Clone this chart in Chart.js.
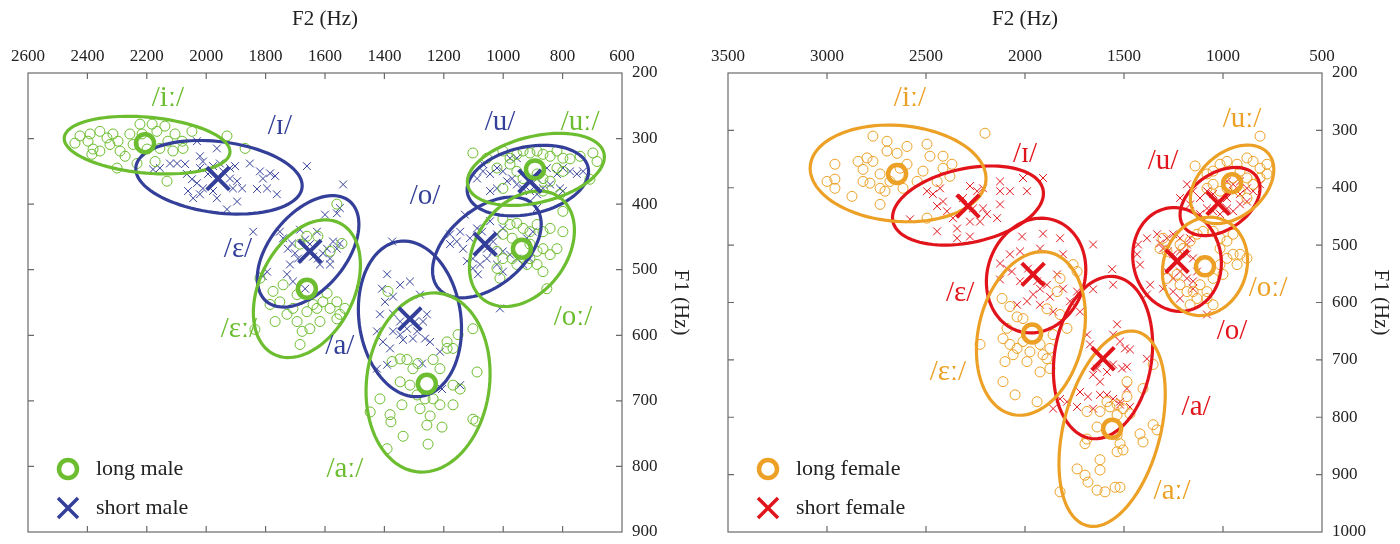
<!DOCTYPE html>
<html>
<head>
<meta charset="utf-8">
<script src="https://cdn.jsdelivr.net/npm/chart.js@4.4.1/dist/chart.umd.min.js"></script>
<style>
  body { margin: 0; background: #fff; }
  .wrap { display: flex; width: 1400px; height: 544px; }
  canvas { display: block; }
</style>
</head>
<body>
<div class="wrap">
  <canvas id="male" width="700" height="544"></canvas>
  <canvas id="female" width="700" height="544"></canvas>
</div>
<script>
// ---- male speakers: [F2, F1] in Hz ----
const mLong_i = [[2391,293],[2398,304],[2381,316],[2385,324],[2358,289],[2334,299],[2324,309],[2314,293],[2297,304],[2290,319],[2273,327],[2300,345],[2257,293],[2246,309],[2223,278],[2216,293],[2182,278],[2199,316],[2166,289],[2139,281],[2156,315],[2129,304],[2105,293],[2081,304],[2078,315],[2048,289],[2112,319],[2172,335],[2233,338],[2132,365],[1930,296],[1869,315],[2358,319],[2425,296],[2442,307]];
const mLong_e = [[1819,513],[1775,533],[1752,549],[1785,553],[1768,579],[1728,568],[1708,559],[1694,579],[1677,594],[1651,590],[1684,614],[1640,553],[1627,559],[1607,549],[1593,536],[1583,559],[1560,549],[1550,568],[1533,559],[1560,575],[1661,564],[1617,579],[1836,591],[1684,461],[1661,449],[1624,449],[1583,472],[1543,460],[1560,400],[1741,523],[1694,538]];
const mLong_a = [[1388,533],[1374,640],[1347,636],[1324,637],[1304,651],[1287,643],[1236,637],[1213,651],[1189,620],[1169,620],[1152,599],[1102,590],[1088,656],[1347,671],[1314,676],[1290,691],[1263,697],[1280,712],[1236,697],[1213,706],[1169,706],[1145,682],[1169,676],[1381,721],[1448,717],[1415,697],[1257,737],[1102,728],[1341,706],[1189,610],[1378,732],[1337,754],[1246,723],[1206,740],[1253,766],[1391,773],[1092,731]];
const mLong_o = [[1001,423],[977,431],[954,429],[933,437],[910,442],[886,431],[866,442],[842,437],[1001,446],[970,452],[910,461],[886,472],[866,468],[842,477],[819,468],[910,483],[886,492],[866,503],[1021,472],[1001,483],[1021,498],[1011,513],[970,483],[799,411],[799,442],[853,529],[920,492],[954,492]];
const mLong_u = [[1102,322],[1055,330],[1001,319],[977,330],[954,324],[933,319],[910,322],[886,319],[866,324],[842,327],[819,319],[799,330],[775,331],[741,327],[698,322],[684,335],[819,345],[799,350],[866,361],[886,354],[954,350],[977,339],[1021,345],[933,361],[842,365],[866,380],[809,385],[708,362],[1001,376]];

const mShort_i = [[2179,347],[2156,345],[2122,338],[2098,338],[2071,339],[2031,304],[2021,327],[2011,335],[2065,354],[2048,362],[2031,368],[2061,380],[2011,376],[1994,354],[1977,342],[1954,338],[1943,350],[1920,345],[1903,342],[1920,361],[1896,365],[1910,376],[1879,376],[1977,380],[1964,391],[1930,408],[1896,396],[1853,338],[1819,350],[1809,361],[1785,353],[1768,357],[1829,377],[1795,376],[1762,385],[1661,342],[2021,385],[2044,391],[1964,315],[2021,345]];
const mShort_e = [[1842,442],[1752,442],[1741,452],[1725,468],[1711,460],[1701,475],[1691,483],[1684,439],[1667,454],[1651,461],[1640,480],[1624,483],[1617,492],[1607,475],[1593,468],[1583,483],[1573,457],[1560,468],[1550,460],[1600,416],[1560,414],[1583,492],[1718,492],[1728,507],[1708,518],[1667,529],[1795,503],[1809,510],[1627,442],[1550,406],[1539,370]];
const mShort_a = [[1374,457],[1391,507],[1408,529],[1415,568],[1398,549],[1371,541],[1347,523],[1314,518],[1280,538],[1257,568],[1270,579],[1297,579],[1290,594],[1324,590],[1347,599],[1371,594],[1405,610],[1425,594],[1425,651],[1391,645],[1337,607],[1304,605],[1263,605],[1273,643],[1213,625],[1246,610],[1206,682],[1145,676],[1381,620],[1347,579],[1371,567]];
const mShort_o = [[1129,416],[1179,446],[1156,457],[1145,442],[1135,468],[1112,452],[1088,437],[1071,442],[1102,483],[1078,492],[1055,483],[1034,472],[1102,498],[1085,507],[1001,472],[1021,492],[977,477],[954,483],[1122,487],[1055,468],[1034,457],[1021,446],[1044,426],[1001,437],[1179,461],[1001,503],[1011,559],[920,452],[900,442],[910,483],[933,492]];
const mShort_u = [[1088,361],[1068,350],[1044,354],[1021,345],[1001,350],[987,365],[970,361],[954,370],[933,376],[910,380],[886,385],[866,376],[842,370],[809,376],[799,380],[775,350],[752,354],[731,350],[799,345],[819,354],[886,361],[1044,380],[1021,376],[910,396],[886,406],[954,330],[977,330],[1068,339],[853,345]];

// means (iː ɛː aː oː uː) and (ɪ ɛ a o u)
const mLongMeans = [[2206,307],[1661,529],[1257,674],[937,468],[893,347]];
const mShortMeans = [[1960,361],[1651,472],[1314,575],[1061,461],[910,365]];

// ellipses: centre F2,F1 / end of one axis F2,F1 / end of other axis F2,F1
const mLongEllipses = [
  [2199,310, 1920,319, 2206,267],
  [1661,529, 1550,429, 1519,561],
  [1253,672, 1213,536, 1048,685],
  [937,468, 809,390, 815,509],
  [890,347, 661,322, 863,396]
];
const mShortEllipses = [
  [1957,359, 1677,370, 1967,304],
  [1657,472, 1516,396, 1560,510],
  [1314,575, 1354,457, 1145,562],
  [1055,466, 893,403, 970,510],
  [917,364, 714,344, 893,414]
];

const mLongLabels = [['/iː/',2129,238],['/ɛː/',1890,591],['/aː/',1533,805],['/uː/',741,276],['/oː/',765,572]];
const mShortLabels = [['/ɪ/',1752,281],['/ɛ/',1893,469],['/a/',1550,617],['/o/',1263,388],['/u/',1011,276]];

// ---- female speakers ----
const fLong_i = [[2768,310],[2697,319],[2596,328],[2495,324],[2414,345],[2369,359],[2414,366],[2480,345],[2646,340],[2697,336],[2798,348],[2843,354],[2818,368],[2960,359],[3000,389],[2960,385],[2960,401],[2874,415],[2818,389],[2783,392],[2732,376],[2732,401],[2707,406],[2682,389],[2616,401],[2732,429],[2631,366],[2596,359],[2444,389],[2379,380],[2202,305],[2495,453],[2545,389],[2515,371],[2768,354]];
const fLong_e = [[2116,593],[2076,607],[2040,625],[2010,628],[2091,645],[2111,663],[2076,673],[2060,691],[2101,703],[2040,680],[2010,668],[1975,686],[1924,673],[1909,691],[1889,698],[1874,715],[1924,721],[1858,656],[1823,621],[1788,645],[1838,581],[1823,558],[1757,534],[1737,546],[1874,680],[2227,673],[2111,738],[2050,761],[1939,773],[1990,703],[1889,611]];
const fLong_a = [[1687,790],[1621,790],[1571,782],[1535,778],[1505,785],[1470,794],[1485,764],[1535,796],[1636,817],[1687,838],[1697,846],[1535,831],[1520,846],[1535,860],[1505,857],[1419,829],[1404,843],[1353,813],[1333,822],[1621,874],[1621,892],[1737,890],[1697,901],[1682,913],[1636,927],[1596,930],[1545,922],[1520,922],[1823,930],[1404,750],[1353,708],[1485,738],[1586,773]];
const fLong_o = [[1303,488],[1318,506],[1283,511],[1217,499],[1202,506],[1166,493],[1131,481],[1101,476],[1050,476],[1015,488],[980,493],[949,481],[1015,506],[980,523],[949,516],[914,516],[879,523],[929,534],[1015,534],[1000,551],[1050,558],[1116,569],[1081,581],[1151,581],[1182,581],[1217,569],[1232,551],[1283,558],[1081,593],[1131,593],[1050,604],[1166,604]];
const fLong_u = [[1141,362],[1081,376],[1050,371],[1015,359],[980,354],[929,359],[879,348],[848,354],[813,366],[778,359],[914,371],[949,383],[879,383],[848,394],[813,383],[1081,401],[1050,394],[1015,406],[914,406],[879,418],[980,401],[813,310],[778,376]];

const fShort_i = [[2581,455],[2495,406],[2465,411],[2429,401],[2414,424],[2444,432],[2394,441],[2364,453],[2343,471],[2278,485],[2278,397],[2242,406],[2212,401],[2192,446],[2227,459],[2263,436],[2212,436],[2126,389],[2126,406],[2076,406],[2126,429],[2141,453],[2010,383],[1990,406],[1909,383],[2444,476],[2343,488],[2313,418],[2278,459]];
const fShort_e = [[2015,485],[1909,480],[1823,488],[1924,506],[2025,511],[2076,516],[2126,532],[2091,541],[2066,546],[2025,563],[1985,541],[1939,563],[1924,576],[1889,569],[1874,590],[1838,551],[1808,516],[1959,586],[1990,598],[2040,604],[1924,604],[1858,616],[2126,560],[1808,576],[1722,616],[1737,581],[1773,598],[1656,499]];
const fShort_a = [[1656,577],[1560,542],[1555,569],[1535,638],[1555,656],[1520,668],[1495,680],[1470,682],[1687,656],[1672,673],[1636,715],[1656,726],[1621,738],[1586,721],[1555,708],[1510,715],[1485,712],[1586,761],[1555,768],[1520,773],[1621,761],[1656,785],[1722,756],[1788,773],[1823,768],[1384,698],[1485,750],[1858,785],[1737,782],[1520,778],[1470,782],[1682,764]];
const fShort_o = [[1429,499],[1384,488],[1333,481],[1318,497],[1283,488],[1252,481],[1217,488],[1182,499],[1166,488],[1434,516],[1419,534],[1303,506],[1278,511],[1252,516],[1217,511],[1182,516],[1151,523],[1217,546],[1252,558],[1182,558],[1151,563],[1131,546],[1283,546],[1303,576],[1252,581],[1217,593],[1368,569],[1384,586],[1081,621],[1151,576]];
const fShort_u = [[1182,394],[1151,406],[1116,418],[1081,406],[1050,411],[1015,424],[980,418],[949,406],[914,411],[879,401],[848,406],[914,389],[949,394],[980,436],[1050,441],[1081,436],[1116,446],[1015,446],[949,441],[914,429],[1217,418],[1166,429],[879,424],[813,394],[980,389]];

const fLongMeans = [[2646,376],[1964,654],[1560,820],[1091,537],[954,392]];
const fShortMeans = [[2288,432],[1959,551],[1606,698],[1232,528],[1025,427]];

const fLongEllipses = [
  [2641,375, 2197,382, 2651,291],
  [1970,654, 1874,513, 1712,675],
  [1560,820, 1434,651, 1323,841],
  [1091,537, 1005,455, 894,562],
  [954,394, 772,340, 848,436]
];
const fShortEllipses = [
  [2288,431, 1909,403, 2247,494],
  [1944,553, 1848,457, 1712,581],
  [1606,696, 1545,555, 1363,708],
  [1232,525, 1177,614, 1015,509],
  [1015,424, 828,382, 939,466]
];

const fLongLabels = [['/iː/',2581,244],['/ɛː/',2389,721],['/aː/',1257,930],['/oː/',772,576],['/uː/',904,280]];
const fShortLabels = [['/ɪ/',2000,342],['/ɛ/',2328,584],['/a/',1136,782],['/o/',954,651],['/u/',1303,354]];

const FONT = "'Liberation Serif', 'DejaVu Serif', serif";
const GREEN = '#6cbd2f';
const BLUE = '#333f98';
const ORANGE = '#eca126';
const RED = '#e2141b';

const pts = arr => arr.map(p => ({x: p[0], y: p[1]}));

// frame + inward ticks on all four sides
const framePlugin = {
    id: 'frame',
    beforeDatasetsDraw(chart) {
        const {ctx, chartArea: a, scales} = chart;
        ctx.save();
        ctx.strokeStyle = '#6a6a6a';
        ctx.lineWidth = 1.2;
        ctx.strokeRect(a.left, a.top, a.right - a.left, a.bottom - a.top);
        ctx.beginPath();
        scales.x.ticks.forEach(t => {
            const px = scales.x.getPixelForValue(t.value);
            if (px <= a.left + 1 || px >= a.right - 1) return;
            ctx.moveTo(px, a.top); ctx.lineTo(px, a.top + 6);
            ctx.moveTo(px, a.bottom); ctx.lineTo(px, a.bottom - 6);
        });
        scales.y.ticks.forEach(t => {
            const py = scales.y.getPixelForValue(t.value);
            if (py <= a.top + 1 || py >= a.bottom - 1) return;
            ctx.moveTo(a.left, py); ctx.lineTo(a.left + 6, py);
            ctx.moveTo(a.right, py); ctx.lineTo(a.right - 6, py);
        });
        ctx.stroke();
        ctx.restore();
    }
};

function drawEllipse(ctx, xs, ys, e) {
    const cx = xs.getPixelForValue(e[0]), cy = ys.getPixelForValue(e[1]);
    const ax = xs.getPixelForValue(e[2]) - cx, ay = ys.getPixelForValue(e[3]) - cy;
    const bx = xs.getPixelForValue(e[4]) - cx, by = ys.getPixelForValue(e[5]) - cy;
    ctx.beginPath();
    for (let i = 0; i <= 90; i++) {
        const t = i / 90 * Math.PI * 2;
        const px = cx + Math.cos(t) * ax + Math.sin(t) * bx;
        const py = cy + Math.cos(t) * ay + Math.sin(t) * by;
        if (i === 0) ctx.moveTo(px, py); else ctx.lineTo(px, py);
    }
    ctx.closePath();
    ctx.stroke();
}

const ellipsePlugin = {
    id: 'ellipses',
    afterDatasetDraw(chart, args, opts) {
        if (!args.meta._dataset.ellipses) return;
        const {ctx, scales} = chart;
        ctx.save();
        ctx.lineWidth = 3.2;
        ctx.strokeStyle = opts.shortColor;
        opts.short.forEach(e => drawEllipse(ctx, scales.x, scales.y, e));
        ctx.strokeStyle = opts.longColor;
        opts.long.forEach(e => drawEllipse(ctx, scales.x, scales.y, e));
        ctx.restore();
    }
};

// vowel labels + legend inside the plot
const textPlugin = {
    id: 'texts',
    afterDraw(chart, args, opts) {
        const {ctx, scales, chartArea: a} = chart;
        ctx.save();
        ctx.font = '29px ' + FONT;
        ctx.textAlign = 'center';
        ctx.textBaseline = 'middle';
        ctx.fillStyle = opts.longColor;
        opts.longLabels.forEach(l => ctx.fillText(l[0], scales.x.getPixelForValue(l[1]), scales.y.getPixelForValue(l[2])));
        ctx.fillStyle = opts.shortColor;
        opts.shortLabels.forEach(l => ctx.fillText(l[0], scales.x.getPixelForValue(l[1]), scales.y.getPixelForValue(l[2])));

        // legend
        const lx = a.left + 40;
        const y1 = a.bottom - 63, y2 = a.bottom - 24;
        ctx.lineWidth = 4.5;
        ctx.strokeStyle = opts.longColor;
        ctx.beginPath(); ctx.arc(lx, y1, 9, 0, Math.PI * 2); ctx.stroke();
        ctx.lineWidth = 3.5;
        ctx.strokeStyle = opts.shortColor;
        ctx.beginPath();
        ctx.moveTo(lx - 10, y2 - 10); ctx.lineTo(lx + 10, y2 + 10);
        ctx.moveTo(lx + 10, y2 - 10); ctx.lineTo(lx - 10, y2 + 10);
        ctx.stroke();
        ctx.fillStyle = '#222';
        ctx.textAlign = 'left';
        ctx.font = '22px ' + FONT;
        ctx.fillText(opts.legend[0], lx + 28, y1);
        ctx.fillText(opts.legend[1], lx + 28, y2);
        ctx.restore();
    }
};

function buildChart(id, cfg) {
    return new Chart(document.getElementById(id), {
        type: 'scatter',
        data: {
            datasets: [
                {data: pts(cfg.shortPts), pointStyle: 'crossRot', pointRadius: 5.5, borderWidth: 1,
                 borderColor: cfg.shortColor, order: 3},
                {data: pts(cfg.longPts), pointStyle: 'circle', pointRadius: 5, borderWidth: 1,
                 borderColor: cfg.longColor, backgroundColor: 'rgba(0,0,0,0)', order: 2, ellipses: true},
                {data: pts(cfg.shortMeans), pointStyle: 'crossRot', pointRadius: 16, borderWidth: 4,
                 borderColor: cfg.shortColor, order: 1},
                {data: pts(cfg.longMeans), pointStyle: 'circle', pointRadius: 9, borderWidth: 4.5,
                 borderColor: cfg.longColor, backgroundColor: 'rgba(0,0,0,0)', order: 0}
            ]
        },
        options: {
            responsive: false,
            animation: false,
            events: [],
            layout: {autoPadding: false, padding: {left: 28, right: 0, top: 0, bottom: 12}},
            scales: {
                x: {
                    type: 'linear', position: 'top', reverse: true,
                    min: cfg.xMin, max: cfg.xMax,
                    grid: {display: false, drawTicks: false},
                    border: {display: false},
                    ticks: {stepSize: cfg.xStep, color: '#222', padding: 6,
                            font: {family: FONT, size: 17}, callback: v => String(v)},
                    title: {display: true, text: 'F2 (Hz)', color: '#222',
                            font: {family: FONT, size: 21}, padding: {top: 7, bottom: 0}},
                    afterFit: s => { s.height = 73; s.paddingLeft = 0; s.paddingRight = 0; }
                },
                y: {
                    type: 'linear', position: 'right', reverse: true,
                    min: 200, max: cfg.yMax,
                    grid: {display: false, drawTicks: false},
                    border: {display: false},
                    ticks: {stepSize: 100, color: '#222', padding: 10,
                            font: {family: FONT, size: 17}, callback: v => String(v)},
                    title: {display: true, text: 'F1 (Hz)', color: '#222',
                            font: {family: FONT, size: 21}, padding: {top: 7, bottom: 0}},
                    afterFit: s => { s.width = 78; s.paddingTop = 0; s.paddingBottom = 0; }
                }
            },
            plugins: {
                legend: {display: false},
                tooltip: {enabled: false},
                ellipses: {long: cfg.longEllipses, short: cfg.shortEllipses,
                           longColor: cfg.longColor, shortColor: cfg.shortColor},
                texts: {longLabels: cfg.longLabels, shortLabels: cfg.shortLabels,
                        longColor: cfg.longColor, shortColor: cfg.shortColor, legend: cfg.legend}
            }
        },
        plugins: [framePlugin, ellipsePlugin, textPlugin]
    });
}

buildChart('male', {
    longPts: [].concat(mLong_i, mLong_e, mLong_a, mLong_o, mLong_u),
    shortPts: [].concat(mShort_i, mShort_e, mShort_a, mShort_o, mShort_u),
    longMeans: mLongMeans, shortMeans: mShortMeans,
    longEllipses: mLongEllipses, shortEllipses: mShortEllipses,
    longLabels: mLongLabels, shortLabels: mShortLabels,
    longColor: GREEN, shortColor: BLUE,
    legend: ['long male', 'short male'],
    xMin: 600, xMax: 2600, xStep: 200, yMax: 900
});

buildChart('female', {
    longPts: [].concat(fLong_i, fLong_e, fLong_a, fLong_o, fLong_u),
    shortPts: [].concat(fShort_i, fShort_e, fShort_a, fShort_o, fShort_u),
    longMeans: fLongMeans, shortMeans: fShortMeans,
    longEllipses: fLongEllipses, shortEllipses: fShortEllipses,
    longLabels: fLongLabels, shortLabels: fShortLabels,
    longColor: ORANGE, shortColor: RED,
    legend: ['long female', 'short female'],
    xMin: 500, xMax: 3500, xStep: 500, yMax: 1000
});
</script>
</body>
</html>
